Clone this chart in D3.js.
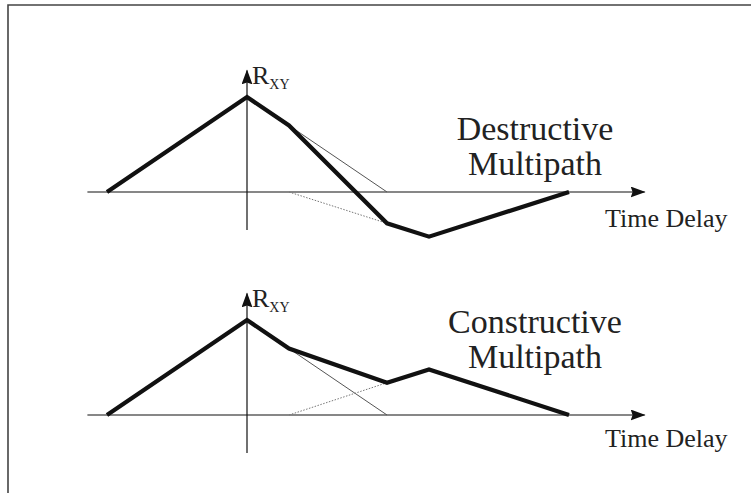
<!DOCTYPE html>
<html>
<head>
<meta charset="utf-8">
<script src="https://cdn.jsdelivr.net/npm/d3@7"></script>
<style>
  body { margin: 0; background: #fff; }
  svg text { font-family: "Liberation Serif", "Times New Roman", serif; fill: #222; }
</style>
</head>
<body>
<div id="chart"></div>
<script>
// delay in chips, correlation normalised to direct peak
var panels = ["destructive", "constructive"];
var titles = [["Destructive", "Multipath"], ["Constructive", "Multipath"]];
var xLabel = "Time Delay";
var yLabel = ["R", "XY"];

// composite correlation (thick)
var destructiveSum = [[-1, 0], [0, 1], [0.3, 0.7], [1, -0.33], [1.3, -0.47], [2.3, 0]];
var constructiveSum = [[-1, 0], [0, 1], [0.3, 0.7], [1, 0.34], [1.3, 0.48], [2.3, 0]];
// direct path tail (thin)
var directTail = [[0.3, 0.7], [1, 0]];
// reflected path (dotted)
var destructiveReflect = [[0.3, 0], [1, -0.33]];
var constructiveReflect = [[0.3, 0], [1, 0.34]];

var xAxisExtent = [-1.14, 2.84];
var yAxisExtent = [-0.4, 1.28];

var width = 751, height = 493;

var svg = d3.select("#chart").append("svg")
    .attr("width", width)
    .attr("height", height);

var defs = svg.append("defs");
defs.append("marker")
    .attr("id", "arrow")
    .attr("viewBox", "0 0 15 11")
    .attr("refX", 14)
    .attr("refY", 5.5)
    .attr("markerWidth", 15)
    .attr("markerHeight", 11)
    .attr("markerUnits", "userSpaceOnUse")
    .attr("orient", "auto")
    .append("path")
    .attr("d", "M0,0 L15,5.5 L0,11 L2,5.5 Z")
    .attr("fill", "#111");

// frame
svg.append("path")
    .attr("d", "M8,493 L8,5 L751,5")
    .attr("fill", "none")
    .attr("stroke", "#444")
    .attr("stroke-width", 1.6);

var xScale = d3.scaleLinear()
    .domain([-1, 1])
    .range([107, 387]);

var panelSetup = [
    {sum: destructiveSum, reflect: destructiveReflect, y0: 192, titleY: [140, 175], timeY: 227},
    {sum: constructiveSum, reflect: constructiveReflect, y0: 415, titleY: [333, 368], timeY: 447}
];

panelSetup.forEach(function (p, i) {
    var yScale = d3.scaleLinear()
        .domain([0, 1])
        .range([p.y0, p.y0 - 95]);

    var line = d3.line()
        .x(function (d) { return xScale(d[0]); })
        .y(function (d) { return yScale(d[1]); });

    var g = svg.append("g").attr("class", panels[i]);

    // axes
    g.append("line")
        .attr("x1", xScale(xAxisExtent[0])).attr("x2", xScale(xAxisExtent[1]))
        .attr("y1", yScale(0)).attr("y2", yScale(0))
        .attr("stroke", "#111").attr("stroke-width", 1.2)
        .attr("marker-end", "url(#arrow)");
    g.append("line")
        .attr("x1", xScale(0)).attr("x2", xScale(0))
        .attr("y1", yScale(yAxisExtent[0])).attr("y2", yScale(yAxisExtent[1]))
        .attr("stroke", "#111").attr("stroke-width", 1.2)
        .attr("marker-end", "url(#arrow)");

    g.append("path")
        .attr("d", line(directTail))
        .attr("fill", "none")
        .attr("stroke", "#555")
        .attr("stroke-width", 1);

    g.append("path")
        .attr("d", line(p.reflect))
        .attr("fill", "none")
        .attr("stroke", "#777")
        .attr("stroke-width", 1)
        .attr("stroke-dasharray", "1.5,1.5");

    g.append("path")
        .attr("d", line(p.sum))
        .attr("fill", "none")
        .attr("stroke", "#111")
        .attr("stroke-width", 4.2)
        .attr("stroke-linejoin", "miter");

    // R_XY label
    var lab = g.append("text")
        .attr("x", xScale(0) + 5)
        .attr("y", yScale(yAxisExtent[1]) + 14)
        .attr("font-size", 26);
    lab.append("tspan").text(yLabel[0]);
    lab.append("tspan").attr("font-size", 14).attr("dy", 5).text(yLabel[1]);

    // title
    titles[i].forEach(function (t, k) {
        g.append("text")
            .attr("x", 535)
            .attr("y", p.titleY[k])
            .attr("text-anchor", "middle")
            .attr("font-size", 34)
            .text(t);
    });

    g.append("text")
        .attr("x", 605)
        .attr("y", p.timeY)
        .attr("font-size", 26)
        .text(xLabel);
});
</script>
</body>
</html>
